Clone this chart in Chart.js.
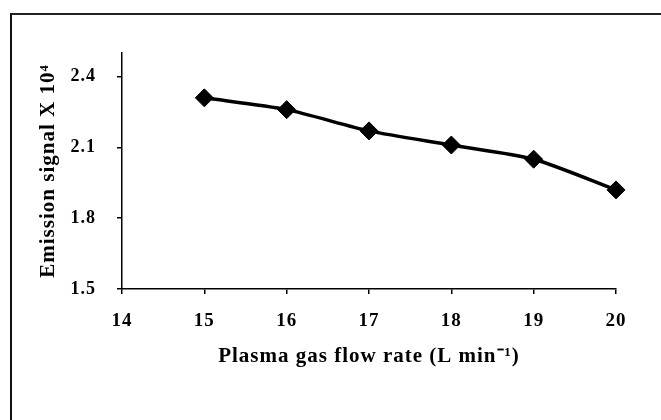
<!DOCTYPE html>
<html>
<head>
<meta charset="utf-8">
<script src="https://cdn.jsdelivr.net/npm/chart.js@4.4.1/dist/chart.umd.min.js"></script>
<style>
  html, body { margin: 0; padding: 0; background: #fff; }
  #wrap { position: relative; width: 661px; height: 420px; overflow: hidden; }
  #frame { position: absolute; left: 10px; top: 13px; width: 700px; height: 500px;
           border-left: 2px solid #111; border-top: 2px solid #222; pointer-events: none; }
  canvas { position: absolute; left: 0; top: 0; }
</style>
</head>
<body>
<div id="wrap">
  <canvas id="c" width="661" height="420"></canvas>
  <div id="frame"></div>
</div>
<script>
// Plasma gas flow rate (L/min) vs. emission signal (x10^4)
const flowRates = [15, 16, 17, 18, 19, 20];
const emission = [2.31, 2.26, 2.17, 2.11, 2.05, 1.92];
const yTicks = [1.5, 1.8, 2.1, 2.4];
const xTicks = [14, 15, 16, 17, 18, 19, 20];

const points = flowRates.map((x, i) => ({ x, y: emission[i] }));
const serif = '"Liberation Serif", "Times New Roman", serif';
const xTickFont = { family: serif, size: 19, weight: 'bold' };
const yTickFont = { family: serif, size: 18, weight: 'bold' };
const titleFont = { family: serif, size: 21, weight: 'bold' };

// slightly wider letter spacing for all axis text
const spacing = {
  id: 'spacing',
  beforeDraw(chart) { chart.ctx.letterSpacing = '1px'; }
};

new Chart(document.getElementById('c'), {
  type: 'line',
  plugins: [spacing],
  data: {
    datasets: [{
      data: points,
      clip: false,
      borderColor: '#000',
      backgroundColor: '#000',
      borderWidth: 3.5,
      tension: 0.25,
      pointStyle: 'rectRot',
      pointRadius: 9,
      pointBorderWidth: 1,
      pointBorderColor: '#000',
      pointBackgroundColor: '#000'
    }]
  },
  options: {
    responsive: false,
    animation: false,
    events: [],
    layout: { padding: { left: 0, top: 53, right: 45, bottom: 0 } },
    plugins: { legend: { display: false }, tooltip: { enabled: false } },
    scales: {
      x: {
        type: 'linear',
        min: 14, max: 20,
        afterBuildTicks: s => { s.ticks = xTicks.map(v => ({ value: v })); },
        afterFit: s => { s.height = 131; },
        border: { display: true, color: '#000', width: 1.5 },
        grid: { drawOnChartArea: false, drawTicks: true, tickLength: 5, color: '#000', lineWidth: 1.5 },
        ticks: { color: '#000', font: xTickFont, padding: 16, maxRotation: 0 },
        title: {
          display: true,
          text: 'Plasma gas flow rate (L min\u207B\u00B9)',
          color: '#000',
          font: titleFont,
          padding: { top: 0, bottom: 51 }
        }
      },
      y: {
        type: 'linear',
        min: 1.5, max: 2.5,
        afterBuildTicks: s => { s.ticks = yTicks.map(v => ({ value: v })); },
        afterFit: s => { s.width = 122; },
        border: { display: true, color: '#000', width: 1.5 },
        grid: { drawOnChartArea: false, drawTicks: true, tickLength: 5, color: '#000', lineWidth: 1.5 },
        ticks: { color: '#000', font: yTickFont, padding: 21, callback: v => v.toFixed(1) },
        title: {
          display: true,
          text: 'Emission signal X 10\u2074',
          color: '#000',
          font: titleFont,
          padding: { top: 36, bottom: 0 }
        }
      }
    }
  }
});
</script>
</body>
</html>
